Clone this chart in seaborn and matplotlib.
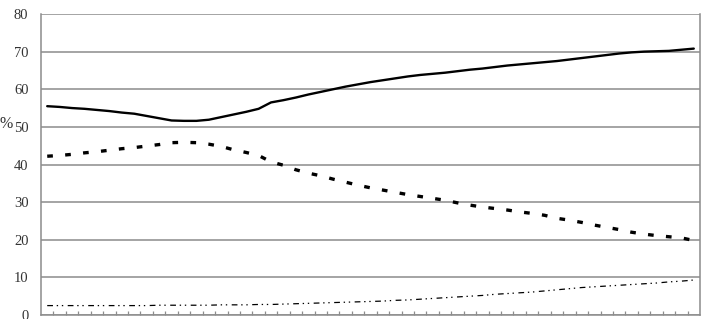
import matplotlib
matplotlib.use("Agg")
import matplotlib.pyplot as plt
import seaborn as sns
import pandas as pd
import numpy as np

# 53 categories (periods), no visible x labels
periods = list(range(1, 54))

working_age = [55.5, 55.3, 55.0, 54.8, 54.5, 54.2, 53.8, 53.5, 52.9, 52.3,
               51.7, 51.6, 51.6, 51.9, 52.6, 53.3, 54.0, 54.8, 56.5, 57.1,
               57.8, 58.6, 59.3, 60.0, 60.7, 61.3, 61.9, 62.4, 62.9, 63.4,
               63.8, 64.1, 64.4, 64.8, 65.2, 65.5, 65.9, 66.3, 66.6, 66.9,
               67.2, 67.5, 67.9, 68.3, 68.7, 69.1, 69.5, 69.8, 70.0, 70.1,
               70.2, 70.5, 70.8]
young = [42.2, 42.4, 42.7, 43.1, 43.4, 43.8, 44.2, 44.5, 44.9, 45.3,
         45.8, 45.9, 45.8, 45.4, 44.8, 43.9, 43.2, 42.4, 40.7, 39.8,
         38.6, 37.7, 37.0, 36.1, 35.3, 34.5, 33.8, 33.2, 32.6, 32.0,
         31.5, 31.0, 30.5, 29.8, 29.2, 28.7, 28.3, 27.9, 27.4, 27.0,
         26.5, 25.7, 25.2, 24.6, 23.9, 23.3, 22.7, 22.0, 21.5, 21.1,
         20.8, 20.5, 19.8]
elderly = [2.5, 2.5, 2.5, 2.5, 2.5, 2.5, 2.5, 2.5, 2.5, 2.6,
           2.6, 2.6, 2.6, 2.6, 2.7, 2.7, 2.7, 2.8, 2.8, 2.9,
           3.0, 3.1, 3.2, 3.3, 3.4, 3.5, 3.6, 3.7, 3.9, 4.0,
           4.2, 4.4, 4.6, 4.8, 5.0, 5.2, 5.5, 5.7, 5.9, 6.1,
           6.4, 6.7, 7.0, 7.3, 7.5, 7.7, 7.9, 8.1, 8.3, 8.5,
           8.8, 9.0, 9.3]
y_ticks = [0, 10, 20, 30, 40, 50, 60, 70, 80]
y_label = "%"

sns.set_theme(style="white")
plt.rcParams['font.family'] = ['Liberation Serif', 'DejaVu Serif']

fig = plt.figure(figsize=(7.01, 3.19), dpi=100)
ax = fig.add_axes([41/701, 1 - 315/319, 659/701, 301/319])

idx = np.arange(len(periods))
df = pd.DataFrame({"i": idx, "working": working_age, "young": young, "elderly": elderly})

grid_c = "#8c8c8c"
for v in y_ticks:
    ax.axhline(v, color=grid_c, lw=1.1, zorder=1)

sns.lineplot(data=df, x="i", y="working", ax=ax, color="black", lw=1.7, zorder=3)
sns.lineplot(data=df, x="i", y="young", ax=ax, color="black", lw=2.4, zorder=3,
             dashes=False)
ax.lines[-1].set_dashes((1.7, 3.7))
sns.lineplot(data=df, x="i", y="elderly", ax=ax, color="black", lw=0.9, zorder=3)
ax.lines[-1].set_dashes((4.6, 3.0, 1.1, 3.0, 1.1, 3.6))

ax.set_xlim(-0.5, len(periods) - 0.5)
ax.set_ylim(0, 80)
ax.set_yticks(y_ticks)
ax.set_yticklabels([str(v) for v in y_ticks], fontsize=10.5, color="#333333")
ax.set_xticks(idx[:-1] + 0.5)
ax.set_xticklabels([])
ax.tick_params(axis="x", direction="in", length=3, width=0.9, color=grid_c, bottom=True)
ax.tick_params(axis="y", length=0, pad=9)
ax.set_xlabel("")
ax.set_ylabel("")
for s in ["left", "bottom", "right", "top"]:
    ax.spines[s].set_color(grid_c)
    ax.spines[s].set_linewidth(1.1)
ax.spines["top"].set_visible(False)

fig.text(0/701, 1 - 124/319, y_label, fontsize=11.5, va="center", ha="left",
         color="#333333")

fig.savefig("out.png", dpi=100)
